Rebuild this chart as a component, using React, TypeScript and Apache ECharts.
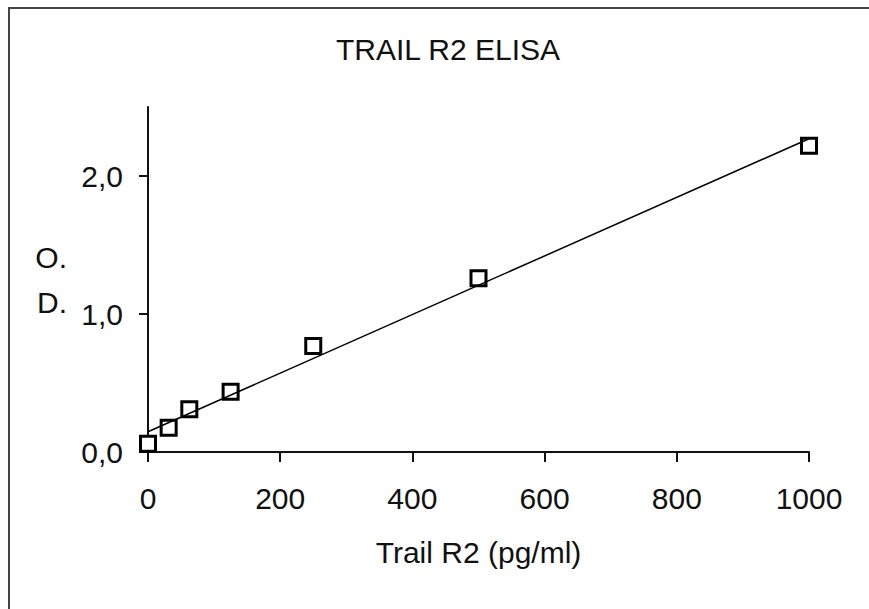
import React, { useEffect, useRef } from "react";
import * as echarts from "echarts";

const concentrations = [0, 31.25, 62.5, 125, 250, 500, 1000];
const odValues = [0.06, 0.176, 0.31, 0.437, 0.768, 1.259, 2.22];
const fitX = [0, 1000];
const fitY = [0.147, 2.27];
const xTicks = [0, 200, 400, 600, 800, 1000];
const yTicks = [0, 1, 2];

const FONT = "'Liberation Sans', Arial, sans-serif";

export default function App() {
  const ref = useRef<HTMLDivElement>(null);
  useEffect(() => {
    if (!ref.current) return;
    const chart = echarts.init(ref.current, undefined, { renderer: "svg" });
    chart.setOption({
      animation: false,
      backgroundColor: "#ffffff",
      title: {
        text: "TRAIL R2 ELISA",
        left: 443,
        top: 29,
        textAlign: "center",
        textStyle: { fontFamily: FONT, fontSize: 30, fontWeight: "normal", color: "#111" },
      },
      graphic: [
        { type: "line", shape: { x1: 8, y1: 8, x2: 869, y2: 8 }, style: { stroke: "#444", lineWidth: 2 } },
        { type: "line", shape: { x1: 9, y1: 8, x2: 9, y2: 609 }, style: { stroke: "#444", lineWidth: 2 } },
      ],
      grid: { left: 148, right: 60, top: 107, bottom: 157, containLabel: false },
      xAxis: {
        type: "value",
        min: 0,
        max: 1000,
        interval: 200,
        name: "Trail R2 (pg/ml)",
        nameLocation: "middle",
        nameGap: 85,
        nameTextStyle: { fontFamily: FONT, fontSize: 30, color: "#111" },
        splitLine: { show: false },
        axisLine: { show: true, lineStyle: { color: "#111", width: 2 } },
        axisTick: { show: true, length: 10, inside: false, customValues: xTicks, lineStyle: { color: "#111", width: 2 } },
        axisLabel: {
          margin: 31,
          customValues: xTicks,
          fontFamily: FONT,
          fontSize: 30,
          color: "#111",
          formatter: (v: number) => String(v),
        },
      },
      yAxis: {
        type: "value",
        min: 0,
        max: 2.5,
        interval: 1,
        name: "O.\nD.",
        nameLocation: "middle",
        nameRotate: 0,
        nameGap: 81,
        nameTextStyle: { fontFamily: FONT, fontSize: 30, color: "#111", lineHeight: 45, align: "right" },
        splitLine: { show: false },
        axisLine: { show: true, lineStyle: { color: "#111", width: 2 } },
        axisTick: { show: true, length: 9, customValues: yTicks, lineStyle: { color: "#111", width: 2 } },
        axisLabel: {
          margin: 25,
          customValues: yTicks,
          fontFamily: FONT,
          fontSize: 30,
          color: "#111",
          formatter: (v: number) => v.toFixed(1).replace(".", ","),
        },
      },
      series: [
        {
          type: "scatter",
          z: 2,
          symbol: "rect",
          symbolSize: 15,
          data: concentrations.map((x, i) => [x, odValues[i]]),
          itemStyle: { color: "#ffffff", borderColor: "#000", borderWidth: 3, opacity: 1 },
        },
        {
          type: "line",
          z: 3,
          showSymbol: false,
          symbol: "none",
          data: fitX.map((x, i) => [x, fitY[i]]),
          lineStyle: { color: "#000", width: 1.5 },
        },
      ],
    });
    return () => chart.dispose();
  }, []);
  return <div ref={ref} style={{ position: "fixed", left: 0, top: 0, width: 869, height: 609 }} />;
}
